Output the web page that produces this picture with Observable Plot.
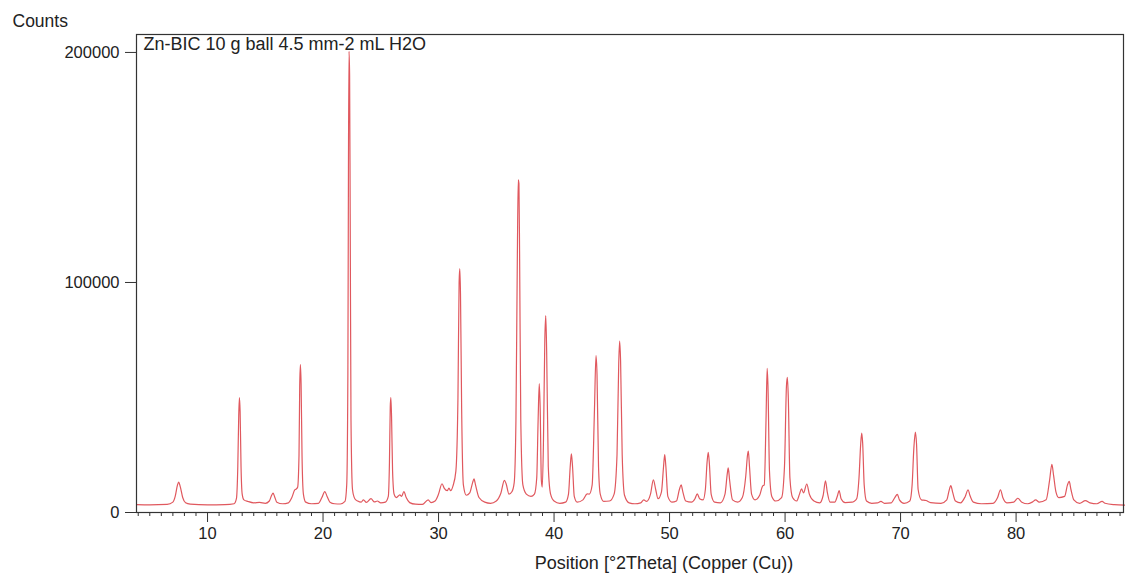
<!DOCTYPE html>
<html>
<head>
<meta charset="utf-8">
<script src="https://cdn.jsdelivr.net/npm/d3@7"></script>
<script src="https://cdn.jsdelivr.net/npm/@observablehq/plot@0.6"></script>
<style>
  html, body { margin: 0; padding: 0; background: #fff; }
</style>
</head>
<body>
<div id="chart"></div>
<script>
const title = "Zn-BIC 10 g ball 4.5 mm-2 mL H2O";
const yLabel = "Counts";
const xLabel = "Position [°2Theta] (Copper (Cu))";
const xTicks = [10, 20, 30, 40, 50, 60, 70, 80];
const xMinorTicks = [4,5,6,7,8,9,11,12,13,14,15,16,17,18,19,21,22,23,24,25,26,27,28,29,31,32,33,34,35,36,37,38,39,41,42,43,44,45,46,47,48,49,51,52,53,54,55,56,57,58,59,61,62,63,64,65,66,67,68,69,71,72,73,74,75,76,77,78,79,81,82,83,84,85,86,87,88,89];
const yTicks = [0, 100000, 200000];

const twoTheta = [
3.85,5.0,6.5,7.0,7.2,7.4,7.5,7.65,7.85,8.1,8.5,10.0,11.5,12.3,12.5,12.62,12.7,12.76,12.82,12.9,13.0,13.15,13.5,14.0,14.5,15.0,15.35,15.55,15.67,15.8,16.0,16.5,17.0,17.3,17.55,17.65,17.8,17.92,17.98,18.04,18.1,18.18,18.3,18.5,19.0,19.6,19.9,20.15,20.35,20.6,21.0,21.5,21.9,22.05,22.15,22.2,22.25,22.3,22.35,22.42,22.55,22.75,23.0,23.3,23.5,23.75,24.15,24.45,24.7,25.0,25.4,25.65,25.75,25.82,25.87,25.93,26.02,26.15,26.35,26.65,26.8,27.0,27.2,27.5,28.0,28.6,29.1,29.35,29.7,30.0,30.3,30.5,30.75,30.9,31.05,31.25,31.5,31.68,31.78,31.84,31.9,32.0,32.15,32.4,32.7,32.95,33.07,33.2,33.5,34.0,34.5,35.0,35.4,35.7,35.85,36.1,36.35,36.55,36.7,36.82,36.9,36.96,37.02,37.12,37.3,37.6,38.0,38.3,38.5,38.62,38.72,38.8,38.9,38.98,39.08,39.2,39.28,39.36,39.5,39.7,40.0,40.5,41.0,41.25,41.4,41.5,41.6,41.75,42.0,42.5,42.87,43.05,43.3,43.5,43.63,43.72,43.85,44.0,44.3,44.8,45.2,45.45,45.6,45.68,45.76,45.9,46.1,46.5,47.0,47.5,47.77,48.0,48.35,48.6,48.8,49.0,49.3,49.48,49.58,49.68,49.85,50.2,50.6,50.85,51.0,51.15,51.4,51.9,52.2,52.4,52.6,52.9,53.1,53.25,53.35,53.45,53.6,53.9,54.4,54.8,55.0,55.08,55.2,55.45,55.9,56.3,56.6,56.75,56.82,56.92,57.1,57.4,57.8,58.05,58.2,58.35,58.45,58.52,58.65,58.85,59.2,59.7,59.95,60.12,60.2,60.28,60.42,60.65,61.0,61.25,61.42,61.6,61.88,62.1,62.5,63.0,63.3,63.5,63.65,63.9,64.3,64.55,64.68,64.85,65.2,65.8,65.96,66.2,66.4,66.55,66.64,66.72,66.85,67.05,67.5,68.0,68.3,68.6,69.2,69.5,69.72,69.9,70.3,70.8,71.0,71.15,71.28,71.38,71.52,71.8,72.2,72.6,73.5,74.0,74.2,74.35,74.5,74.75,75.2,75.6,75.85,76.0,76.3,77.0,78.0,78.4,78.65,78.85,79.2,79.8,80.15,80.5,81.0,81.4,81.7,82.0,82.6,82.9,83.1,83.25,83.45,83.7,84.2,84.45,84.6,84.75,85.0,85.5,86.0,86.4,87.0,87.45,87.7,88.5,89.4
];
const counts = [
3400,3300,3500,4500,7000,12000,13200,11000,6500,4200,3600,3300,3400,3800,6000,20000,42000,50000,44000,20000,8000,5500,4800,4200,4400,4000,5000,7500,8400,7000,4500,3800,4200,6500,9800,10100,11000,25000,55000,64300,56000,25000,8000,4500,3800,4000,6500,9100,7000,4500,3800,3700,4800,12000,60000,150000,200500,190000,130000,40000,10000,6000,5000,4500,5500,4400,6000,4600,5000,4200,4500,7000,22000,46000,50000,42000,18000,8000,6500,7700,7000,9100,6500,4300,3600,3500,5500,4300,5000,8000,12500,10500,9500,10600,9500,11600,18000,50000,100000,106000,95000,45000,12000,7500,8500,13000,14600,12000,6500,4500,4000,5000,8500,14000,12500,8000,9000,13000,40000,110000,144600,143000,110000,40000,12000,8000,7000,8000,15000,40000,56000,45000,14000,11000,30000,75000,85600,70000,20000,8000,5000,4000,4500,8000,20000,25500,20000,7000,4500,5500,8100,8000,12000,45000,68200,60000,20000,8000,4800,5000,8000,25000,65000,74500,66000,25000,7500,4200,3800,4200,5500,4800,8000,14200,10000,6000,9000,20000,25200,20000,7000,4500,5000,10000,12000,9000,5000,4500,6000,8100,6000,5500,10000,22000,26200,21000,8000,4500,4200,8000,17000,19400,14000,5500,4500,6500,16000,25000,26650,20000,8000,5500,7500,11500,12000,40000,62700,55000,18000,7000,5000,6500,20000,55000,58800,50000,15000,6500,5000,8000,10300,8500,12400,8000,5000,4200,7500,13800,9000,4500,4500,7500,9550,6000,4300,4500,4800,6000,15000,30000,34500,30000,12000,5000,4000,4200,4800,4000,4200,6500,7900,5500,4000,5000,12000,28000,34900,30000,10000,5500,5200,4300,4000,5500,9500,11700,9000,5000,4200,7000,9900,7500,4500,3800,4000,6500,9900,6500,4200,4500,6200,4500,3800,4500,5500,4500,5500,14000,20900,16000,9000,6500,7000,12000,13500,10000,5500,4000,5200,4200,3800,4800,4000,3400,3200
];

const data = twoTheta.map((x, i) => ({x, y: counts[i]}));

const chart = Plot.plot({
  width: 1125,
  height: 576,
  marginTop: 34,
  marginBottom: 64,
  marginLeft: 136,
  marginRight: 2,
  style: {fontFamily: "'Liberation Sans', Arial, sans-serif", fontSize: "16px", color: "#222", background: "#fff", overflow: "visible"},
  x: {domain: [3.85, 89.3]},
  y: {domain: [0, 207800]},
  marks: [
    Plot.axisX(xMinorTicks, {tickSize: 4, tickFormat: () => "", label: null, stroke: "#333"}),
    Plot.axisX(xTicks, {tickSize: 10, tickPadding: 5, label: null, stroke: "#333", fontSize: 16.5, tickFormat: d3.format("d")}),
    Plot.axisY(yTicks, {tickSize: 11, tickPadding: 6, label: null, stroke: "#333", fontSize: 16.5, tickFormat: d3.format("d")}),
    Plot.line(data, {x: "x", y: "y", stroke: "#e0585e", strokeWidth: 1.2, curve: "monotone-x"}),
    Plot.frame({stroke: "#333", strokeWidth: 1.2}),
    Plot.text([title], {frameAnchor: "top-left", dx: 7, dy: 10, lineAnchor: "middle", textAnchor: "start", fontSize: 18, fill: "#222"}),
    Plot.text([yLabel], {frameAnchor: "top-left", dx: -124, dy: -13, lineAnchor: "middle", textAnchor: "start", fontSize: 17.5, fill: "#222"}),
    Plot.text([xLabel], {frameAnchor: "bottom", dx: 34, dy: 51, lineAnchor: "middle", fontSize: 18, fill: "#222"})
  ]
});
document.getElementById("chart").append(chart);
</script>
</body>
</html>
